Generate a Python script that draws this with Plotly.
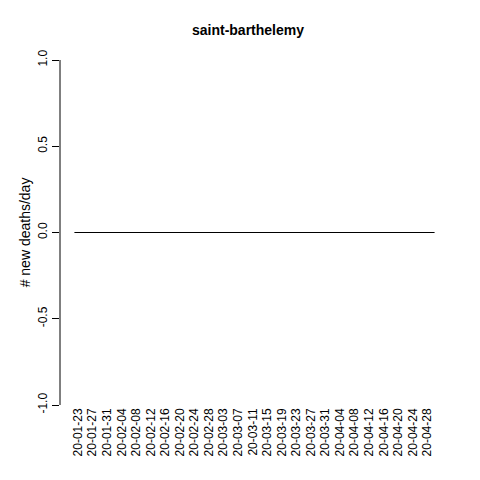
import pandas as pd
import plotly.graph_objects as go

dates = pd.date_range("2020-01-22", "2020-04-30", freq="D")
new_deaths = [0] * len(dates)
tick_dates = pd.date_range("2020-01-23", "2020-04-28", freq="4D")
tick_text = [d.strftime("%y-%m-%d") for d in tick_dates]
y_ticks = [-1.0, -0.5, 0.0, 0.5, 1.0]

fig = go.Figure()
fig.add_trace(go.Scatter(x=dates, y=new_deaths, mode="lines",
                         line=dict(color="black", width=1), hoverinfo="skip"))

span = (dates[-1] - dates[0]) * 0.04
fig.add_shape(type="line", xref="paper", yref="y", x0=0, x1=0, y0=-1, y1=1,
              line=dict(color="black", width=1))

fig.update_layout(
    width=480, height=480,
    margin=dict(l=52, r=39, t=52, b=83),
    plot_bgcolor="white", paper_bgcolor="white",
    showlegend=False,
    font=dict(family="Liberation Sans, Arial", size=12, color="black"),
    title=dict(text="<b>saint-barthelemy</b>", x=0.5, xanchor="center",
               y=1 - 22 / 480, yanchor="middle", font=dict(size=14)),
    xaxis=dict(range=[dates[0] - span, dates[-1] + span], tickmode="array",
               tickvals=tick_dates, ticktext=tick_text, tickangle=-90,
               showgrid=False, zeroline=False, showline=False, ticks="",
               automargin=False),
    yaxis=dict(range=[-1, 1], tickmode="array", tickvals=y_ticks,
               ticktext=[f"{v:.1f}" for v in y_ticks], tickangle=-90,
               ticks="outside", ticklen=7, tickcolor="black",
               showgrid=False, zeroline=False, showline=False,
               automargin=False,
               title=dict(text="# new deaths/day", standoff=2)),
)

fig.write_html("out.html")
